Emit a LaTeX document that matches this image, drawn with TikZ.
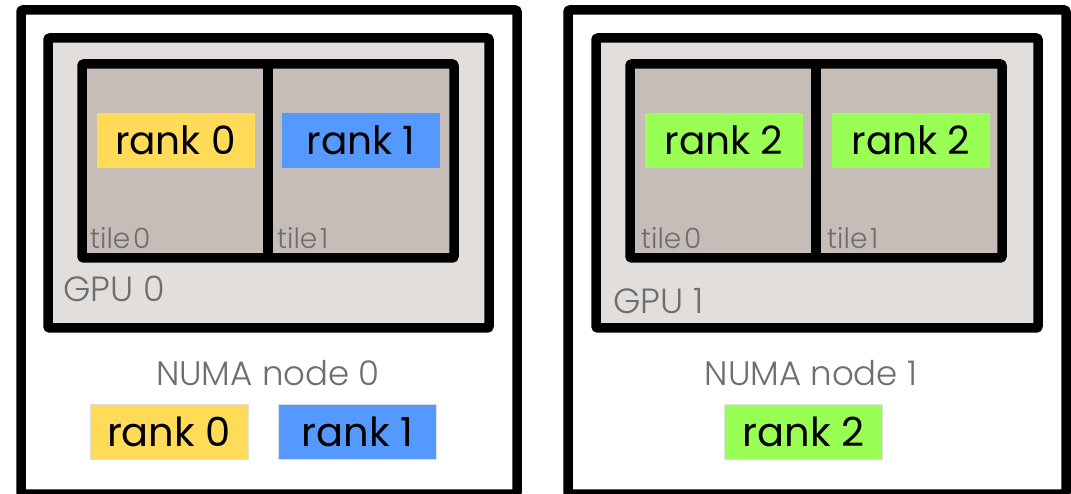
\documentclass[tikz,border=0pt]{standalone}
\usepackage{fontspec}
\setmainfont{Poppins}
\newfontfamily\labelfont{Poppins Light}
\definecolor{gpufill}{HTML}{E2DEDB}
\definecolor{tilefill}{HTML}{C7BDB8}
\definecolor{labelgrey}{HTML}{6E6E6E}
\definecolor{rankyellow}{HTML}{FFDB58}
\definecolor{rankblue}{HTML}{5599FF}
\definecolor{rankgreen}{HTML}{99FF55}
\newcommand{\tilename}[1]{tile\hspace{0.1em}#1}
\begin{document}
\begin{tikzpicture}[x=1pt,y=-1pt,
  frame/.style={draw=black, line width=9.5pt, rounded corners=2pt},
  numabox/.style={frame, fill=white},
  gpubox/.style={frame, fill=gpufill},
  tilebox/.style={frame, fill=tilefill},
  divider/.style={draw=black, line width=9.5pt},
  rankbox/.style={minimum width=158pt, minimum height=55pt, inner sep=0pt,
    text=black},
  toprank/.style={rankbox, font=\fontsize{39}{39}\selectfont},
  lowrank/.style={rankbox, draw=black!12, line width=0.6pt,
    font=\fontsize{40}{40}\selectfont},
  tilelabel/.style={anchor=base west, inner sep=0pt, text=labelgrey,
    font=\labelfont\fontsize{28}{28}\selectfont},
  gpulabel/.style={anchor=base west, inner sep=0pt, text=labelgrey,
    font=\labelfont\fontsize{35}{35}\selectfont},
  numalabel/.style={anchor=base, inner sep=0pt, text=labelgrey,
    font=\labelfont\fontsize{34}{34}\selectfont}]
\useasboundingbox (0,0) rectangle (1071,494);

% ---- NUMA node 0 ----
\path[numabox] (21,10) rectangle (517,494);
\path[gpubox] (48,38) rectangle (489,328);
\path[tilebox] (82,64) rectangle (454,258);
\path[divider] (268,64) -- (268,258);
\node[tilelabel] (t00) at (90,249) {\tilename{0}};
\node[tilelabel] (t01) at (277,249) {\tilename{1}};
\node[gpulabel] (gpu0) at (63,302) {GPU 0};
\node[numalabel] (numa0) at (268,385) {NUMA node 0};
\node[toprank, fill=rankyellow] (r0t) at (175.5,140.5) {rank 0};
\node[toprank, fill=rankblue] (r1t) at (361,140.5) {rank 1};
\node[lowrank, fill=rankyellow] (r0n) at (169,431.5) {rank 0};
\node[lowrank, fill=rankblue] (r1n) at (357.5,431.5) {rank 1};

% ---- NUMA node 1 ----
\path[numabox] (568,10) rectangle (1066,494);
\path[gpubox] (596,38) rectangle (1038,328);
\path[tilebox] (630,64) rectangle (1002,258);
\path[divider] (816,64) -- (816,258);
\node[tilelabel] (t10) at (641,249) {\tilename{0}};
\node[tilelabel] (t11) at (827,249) {\tilename{1}};
\node[gpulabel] (gpu1) at (613,313) {GPU 1};
\node[numalabel] (numa1) at (811,385) {NUMA node 1};
\node[toprank, fill=rankgreen] (r2a) at (724,140.5) {rank 2};
\node[toprank, fill=rankgreen] (r2b) at (911,140.5) {rank 2};
\node[lowrank, fill=rankgreen] (r2n) at (803.5,431.5) {rank 2};
\end{tikzpicture}
\end{document}
